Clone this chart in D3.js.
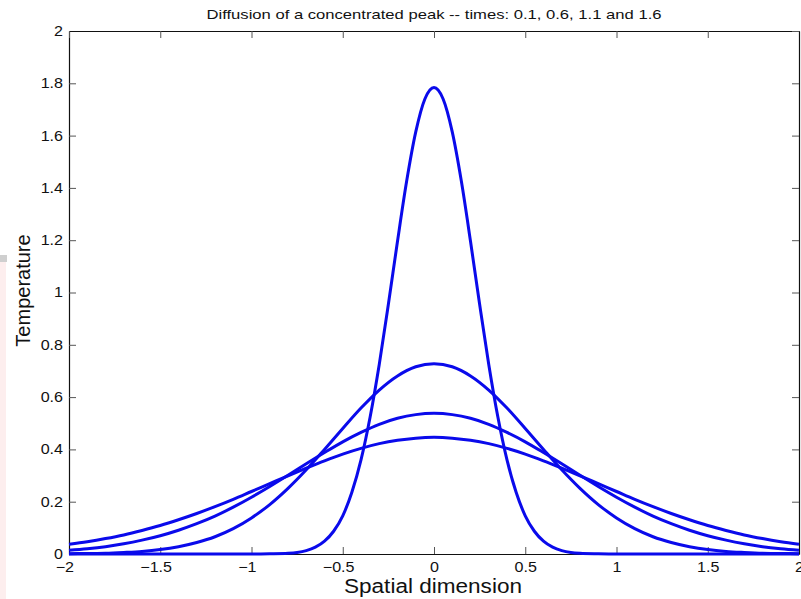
<!DOCTYPE html>
<html>
<head>
<meta charset="utf-8">
<script src="https://cdn.jsdelivr.net/npm/d3@7"></script>
<style>
    html, body { margin: 0; padding: 0; background: #ffffff; }
    text { font-family: "Liberation Sans", Arial, Helvetica, sans-serif; fill: #111; }
</style>
</head>
<body>
<div id="canvas"></div>
<script>
"use strict";

/* Chart data: temperature profiles at four times */
let xWide = [-2, -1.9, -1.8, -1.7, -1.6, -1.5, -1.4, -1.3, -1.2, -1.1, -1,
             -0.9, -0.8, -0.7, -0.6, -0.5, -0.4, -0.3, -0.2, -0.1, 0,
             0.1, 0.2, 0.3, 0.4, 0.5, 0.6, 0.7, 0.8, 0.9, 1,
             1.1, 1.2, 1.3, 1.4, 1.5, 1.6, 1.7, 1.8, 1.9, 2];

let xNarrow = [-2, -1.5, -1.2, -1, -0.9, -0.8, -0.75, -0.7, -0.65, -0.6, -0.55,
               -0.5, -0.45, -0.4, -0.35, -0.3, -0.25, -0.2, -0.15, -0.1, -0.05, 0,
               0.05, 0.1, 0.15, 0.2, 0.25, 0.3, 0.35, 0.4, 0.45, 0.5,
               0.55, 0.6, 0.65, 0.7, 0.75, 0.8, 0.9, 1, 1.2, 1.5, 2];

let temp01 = [0, 0, 0, 0, 0.001, 0.003, 0.006, 0.013, 0.026, 0.049, 0.087,
              0.146, 0.236, 0.360, 0.524, 0.725, 0.955, 1.196, 1.425, 1.614, 1.740, 1.784,
              1.740, 1.614, 1.425, 1.196, 0.955, 0.725, 0.524, 0.360, 0.236, 0.146,
              0.087, 0.049, 0.026, 0.013, 0.006, 0.003, 0.001, 0, 0, 0, 0];

let temp06 = [0.001, 0.002, 0.003, 0.006, 0.010, 0.017, 0.028, 0.044, 0.066, 0.097, 0.138,
              0.189, 0.251, 0.322, 0.400, 0.480, 0.558, 0.627, 0.681, 0.716, 0.728,
              0.716, 0.681, 0.627, 0.558, 0.480, 0.400, 0.322, 0.251, 0.189, 0.138,
              0.097, 0.066, 0.044, 0.028, 0.017, 0.010, 0.006, 0.003, 0.002, 0.001];

let temp11 = [0.014, 0.020, 0.028, 0.039, 0.053, 0.070, 0.091, 0.116, 0.145, 0.179, 0.217,
              0.258, 0.301, 0.345, 0.388, 0.429, 0.465, 0.496, 0.519, 0.533, 0.538,
              0.533, 0.519, 0.496, 0.465, 0.429, 0.388, 0.345, 0.301, 0.258, 0.217,
              0.179, 0.145, 0.116, 0.091, 0.070, 0.053, 0.039, 0.028, 0.020, 0.014];

let temp16 = [0.037, 0.047, 0.059, 0.073, 0.090, 0.109, 0.131, 0.155, 0.181, 0.209, 0.239,
              0.269, 0.299, 0.328, 0.356, 0.382, 0.404, 0.422, 0.435, 0.443, 0.446,
              0.443, 0.435, 0.422, 0.404, 0.382, 0.356, 0.328, 0.299, 0.269, 0.239,
              0.209, 0.181, 0.155, 0.131, 0.109, 0.090, 0.073, 0.059, 0.047, 0.037];

let seriesNames = ["t = 0.1", "t = 0.6", "t = 1.1", "t = 1.6"];

let xTicks = [-2, -1.5, -1, -0.5, 0, 0.5, 1, 1.5, 2];
let xTickLabels = ["\u22122", "\u22121.5", "\u22121", "\u22120.5", "0", "0.5", "1", "1.5", "2"];
let yTicks = [0, 0.2, 0.4, 0.6, 0.8, 1, 1.2, 1.4, 1.6, 1.8, 2];
let yTickLabels = ["0", "0.2", "0.4", "0.6", "0.8", "1", "1.2", "1.4", "1.6", "1.8", "2"];

let titleText = "Diffusion of a concentrated peak -- times: 0.1, 0.6, 1.1 and 1.6";
let xLabelText = "Spatial dimension";
let yLabelText = "Temperature";

/* Layout */
let svgWidth = 801;
let svgHeight = 599;
let plot = { left: 69, right: 799, top: 31, bottom: 554 };
let stretch = 1.15; // text in the reference is a bit wide

let svg;

(function() {
    svg = d3.select("#canvas")
        .append("svg")
        .attr("width", svgWidth)
        .attr("height", svgHeight);

    svg.append("rect")
        .attr("width", svgWidth)
        .attr("height", svgHeight)
        .attr("fill", "#ffffff");

    // pale strip at the far left of the screenshot
    svg.append("rect")
        .attr("x", 0).attr("y", 262)
        .attr("width", 6).attr("height", svgHeight - 262)
        .attr("fill", "#fdeeee");
    svg.append("rect")
        .attr("x", 0).attr("y", 255)
        .attr("width", 7).attr("height", 7)
        .attr("fill", "#cfcfcf");

    drawChart();
})();

function drawChart() {
    let xScale = d3.scaleLinear()
        .domain([-2, 2])
        .range([plot.left, plot.right]);

    let yScale = d3.scaleLinear()
        .domain([0, 2])
        .range([plot.bottom, plot.top]);

    // Axes with inward ticks on all four sides (MATLAB box)
    let bottomAxis = d3.axisBottom(xScale)
        .tickValues(xTicks)
        .tickFormat(function(d, i) { return xTickLabels[i]; })
        .tickSizeInner(-7)
        .tickSizeOuter(0)
        .tickPadding(8);

    let leftAxis = d3.axisLeft(yScale)
        .tickValues(yTicks)
        .tickFormat(function(d, i) { return yTickLabels[i]; })
        .tickSizeInner(-7)
        .tickSizeOuter(0)
        .tickPadding(6);

    let topAxis = d3.axisTop(xScale)
        .tickValues(xTicks)
        .tickFormat("")
        .tickSizeInner(-7)
        .tickSizeOuter(0);

    let rightAxis = d3.axisRight(yScale)
        .tickValues(yTicks)
        .tickFormat("")
        .tickSizeInner(-7)
        .tickSizeOuter(0);

    let gBottom = svg.append("g")
        .attr("transform", "translate(0," + plot.bottom + ")")
        .call(bottomAxis);
    let gLeft = svg.append("g")
        .attr("transform", "translate(" + plot.left + ",0)")
        .call(leftAxis);
    let gTop = svg.append("g")
        .attr("transform", "translate(0," + plot.top + ")")
        .call(topAxis);
    let gRight = svg.append("g")
        .attr("transform", "translate(" + plot.right + ",0)")
        .call(rightAxis);

    [gBottom, gLeft, gTop, gRight].forEach(function(g) {
        g.select(".domain").attr("stroke", "#111").attr("stroke-width", 1.2);
        g.selectAll(".tick line").attr("stroke", "#555").attr("stroke-width", 1);
    });

    gBottom.selectAll(".tick text")
        .attr("font-size", 14)
        .attr("fill", "#111")
        .attr("transform", "scale(" + stretch + ",1)")
        .attr("dx", function(d) { return d < 0 ? -4 : 0; });

    gLeft.selectAll(".tick text")
        .attr("font-size", 14)
        .attr("fill", "#111")
        .attr("x", -6 / stretch)
        .attr("transform", "scale(" + stretch + ",1)");

    // Curves
    let line = d3.line()
        .x(function(d) { return xScale(d[0]); })
        .y(function(d) { return yScale(d[1]); })
        .curve(d3.curveMonotoneX);

    let series = [
        { name: seriesNames[0], xs: xNarrow, ys: temp01 },
        { name: seriesNames[1], xs: xWide, ys: temp06 },
        { name: seriesNames[2], xs: xWide, ys: temp11 },
        { name: seriesNames[3], xs: xWide, ys: temp16 }
    ];

    for (let i = 0; i < series.length; i++) {
        let s = series[i];
        let pts = s.xs.map(function(x, j) { return [x, s.ys[j]]; });
        svg.append("path")
            .datum(pts)
            .attr("d", line)
            .attr("fill", "none")
            .attr("stroke", "#0a0aeb")
            .attr("stroke-width", 3)
            .append("title").text(s.name);
    }

    // Title and axis labels
    let midX = (plot.left + plot.right) / 2;

    svg.append("text")
        .attr("x", midX)
        .attr("y", 19)
        .attr("text-anchor", "middle")
        .attr("font-size", 13.5)
        .attr("textLength", 455)
        .attr("lengthAdjust", "spacingAndGlyphs")
        .text(titleText);

    svg.append("text")
        .attr("x", midX - 1)
        .attr("y", 593)
        .attr("text-anchor", "middle")
        .attr("font-size", 19.5)
        .attr("textLength", 178)
        .attr("lengthAdjust", "spacingAndGlyphs")
        .text(xLabelText);

    svg.append("text")
        .attr("transform", "translate(29.5,290.5) rotate(-90)")
        .attr("text-anchor", "middle")
        .attr("font-size", 20)
        .text(yLabelText);
}
</script>
</body>
</html>
